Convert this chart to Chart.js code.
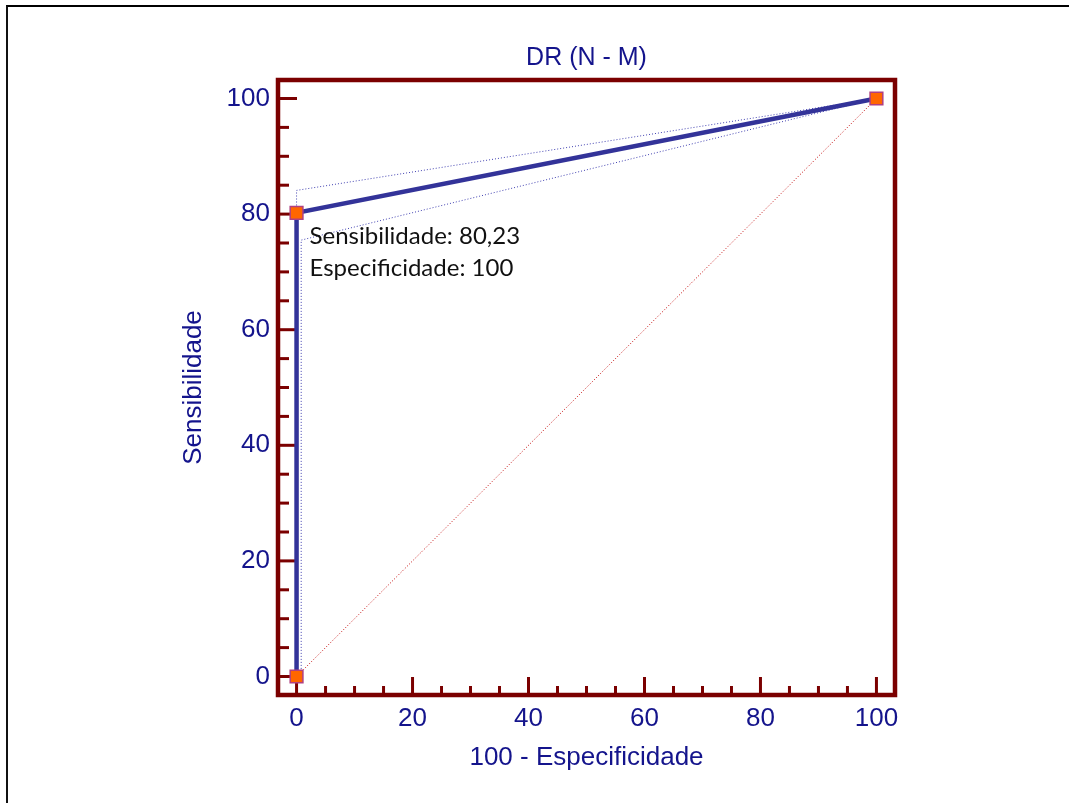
<!DOCTYPE html>
<html>
<head>
<meta charset="utf-8">
<script src="https://cdn.jsdelivr.net/npm/chart.js@4.4.0/dist/chart.umd.min.js"></script>
<style>
  body { margin: 0; background: #fff; }
  #frame { position: absolute; left: 6px; top: 5px; width: 1200px; height: 900px;
           border-top: 2px solid #000; border-left: 2px solid #111; }
  #roc { position: absolute; left: 0; top: 0; }
</style>
</head>
<body>
<div id="frame"></div>
<canvas id="roc" width="1069" height="803"></canvas>
<script>
// curva ROC (100 - especificidade, sensibilidade)
const fpr = [0, 0, 100]
const sens = [0, 80.23, 100]
// limites de confiança
const upperX = [0, 0, 100]
const upperY = [0, 84.1, 100]
const lowerX = [0.8, 0.8, 100]
const lowerY = [0.8, 75.5, 100]
// diagonal de referência
const diagX = [0, 100]
const diagY = [0, 100]
const xTicks = [0, 20, 40, 60, 80, 100]
const yTicks = [0, 20, 40, 60, 80, 100]

const navy = '#14148c'
const darkRed = '#7b0000'

const pts = (xs, ys) => xs.map((x, i) => ({ x: x, y: ys[i] }))

const frameAndTicks = {
    id: 'frameAndTicks',
    beforeDatasetsDraw(chart) {
        const { ctx, chartArea: a, scales: { x, y } } = chart
        ctx.save()
        ctx.strokeStyle = darkRed
        ctx.lineWidth = 3
        ctx.lineCap = 'butt'
        for (let v = 0; v <= 100; v += 5) {
            const major = v % 20 === 0
            const px = x.getPixelForValue(v)
            ctx.beginPath()
            ctx.moveTo(px, a.bottom)
            ctx.lineTo(px, a.bottom - (major ? 18 : 9))
            ctx.stroke()
            const py = y.getPixelForValue(v)
            ctx.beginPath()
            ctx.moveTo(a.left, py)
            ctx.lineTo(a.left + (major ? 19 : 11), py)
            ctx.stroke()
        }
        ctx.lineWidth = 4.5
        ctx.strokeRect(a.left, a.top, a.right - a.left, a.bottom - a.top)
        ctx.restore()
    }
}

const cutoffLabel = {
    id: 'cutoffLabel',
    afterDatasetsDraw(chart) {
        const { ctx, scales: { x, y } } = chart
        const px = x.getPixelForValue(fpr[1])
        const py = y.getPixelForValue(sens[1])
        ctx.save()
        ctx.fillStyle = '#111'
        ctx.font = '24px Lato'
        ctx.textBaseline = 'middle'
        ctx.textAlign = 'left'
        ctx.fillText('Sensibilidade: ' + String(sens[1]).replace('.', ','), px + 13, py + 23)
        ctx.fillText('Especificidade: ' + (100 - fpr[1]), px + 13, py + 55)
        ctx.restore()
    }
}

const ctx = document.getElementById('roc').getContext('2d')
const RocChart = new Chart(ctx, {
    type: 'scatter',
    data: {
        datasets: [
            {
                data: pts(fpr, sens),
                showLine: true,
                borderColor: '#333399',
                borderWidth: 4.5,
                pointStyle: 'rect',
                pointRadius: 9,
                pointBackgroundColor: '#ff6600',
                pointBorderColor: '#b04080',
                pointBorderWidth: 1.5
            },
            {
                data: pts(upperX, upperY),
                showLine: true,
                borderColor: '#4040b0',
                borderWidth: 1,
                borderDash: [1, 2],
                pointRadius: 0
            },
            {
                data: pts(lowerX, lowerY),
                showLine: true,
                borderColor: '#4040b0',
                borderWidth: 1,
                borderDash: [1, 2],
                pointRadius: 0
            },
            {
                data: pts(diagX, diagY),
                showLine: true,
                borderColor: '#c00000',
                borderWidth: 1,
                borderDash: [1, 2],
                pointRadius: 0
            }
        ]
    },
    options: {
        responsive: false,
        animation: false,
        devicePixelRatio: 1,
        layout: {
            padding: { left: 0, right: 174, top: 0, bottom: 0 }
        },
        plugins: {
            legend: { display: false },
            tooltip: { enabled: false },
            title: {
                display: true,
                fullSize: false,
                text: 'DR (N - M)',
                color: navy,
                font: { family: 'Liberation Sans', size: 25, weight: 'normal', lineHeight: 1.2 },
                padding: { top: 43, bottom: 7 }
            }
        },
        scales: {
            x: {
                type: 'linear',
                min: -3.2,
                max: 103.2,
                afterFit: (s) => { s.height = 108 },
                afterBuildTicks: (s) => { s.ticks = xTicks.map(v => ({ value: v })) },
                grid: { display: false, drawTicks: false },
                border: { display: false },
                ticks: {
                    color: navy,
                    padding: 8,
                    maxRotation: 0,
                    font: { family: 'Liberation Sans', size: 26 }
                },
                title: {
                    display: true,
                    text: '100 - Especificidade',
                    color: navy,
                    font: { family: 'Liberation Sans', size: 26, lineHeight: 1.2 },
                    padding: { top: 0, bottom: 30 }
                }
            },
            y: {
                type: 'linear',
                min: -3.2,
                max: 103.2,
                afterFit: (s) => { s.width = 278 },
                afterBuildTicks: (s) => { s.ticks = yTicks.map(v => ({ value: v })) },
                grid: { display: false, drawTicks: false },
                border: { display: false },
                ticks: {
                    color: navy,
                    padding: 8,
                    font: { family: 'Liberation Sans', size: 26 }
                },
                title: {
                    display: true,
                    text: 'Sensibilidade',
                    color: navy,
                    font: { family: 'Liberation Sans', size: 26, lineHeight: 1.2 },
                    padding: { top: 178, bottom: 0 }
                }
            }
        }
    },
    plugins: [frameAndTicks, cutoffLabel]
});
</script>
</body>
</html>
